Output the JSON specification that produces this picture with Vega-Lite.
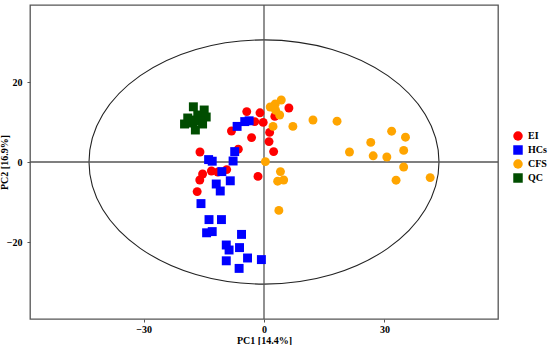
{
  "$schema": "https://vega.github.io/schema/vega-lite/v6.json",
  "width": 468,
  "height": 314,
  "autosize": "none",
  "padding": {"left": 30, "top": 5, "right": 52, "bottom": 26},
  "background": "white",
  "datasets": {
    "scores": [
      {"group": "EI", "x": -4.3, "y": 12.6},
      {"group": "EI", "x": -1.0, "y": 12.3},
      {"group": "EI", "x": 2.7, "y": 11.4},
      {"group": "EI", "x": -2.3, "y": 10.1},
      {"group": "EI", "x": -0.2, "y": 9.9},
      {"group": "EI", "x": -8.1, "y": 7.75},
      {"group": "EI", "x": -3.1, "y": 6.1},
      {"group": "EI", "x": 1.4, "y": 7.4},
      {"group": "EI", "x": 1.25, "y": 5.1},
      {"group": "EI", "x": -6.4, "y": 3.2},
      {"group": "EI", "x": 2.4, "y": 2.6},
      {"group": "EI", "x": -15.95, "y": 2.5},
      {"group": "EI", "x": 6.2, "y": 13.5},
      {"group": "EI", "x": -13.1, "y": -2.25},
      {"group": "EI", "x": -9.3, "y": -1.9},
      {"group": "EI", "x": -15.3, "y": -3.0},
      {"group": "EI", "x": -16.0, "y": -4.5},
      {"group": "EI", "x": -16.65, "y": -7.4},
      {"group": "EI", "x": -11.5, "y": -2.5},
      {"group": "EI", "x": -1.5, "y": -3.6},
      {"group": "HCs", "x": -6.7, "y": 8.9},
      {"group": "HCs", "x": -4.8, "y": 10.1},
      {"group": "HCs", "x": -3.7, "y": 10.3},
      {"group": "HCs", "x": -7.3, "y": 2.6},
      {"group": "HCs", "x": -7.7, "y": 0.25},
      {"group": "HCs", "x": -13.8, "y": 0.6},
      {"group": "HCs", "x": -12.9, "y": 0.2},
      {"group": "HCs", "x": -10.5, "y": -2.4},
      {"group": "HCs", "x": -8.4, "y": -4.7},
      {"group": "HCs", "x": -11.9, "y": -5.5},
      {"group": "HCs", "x": -10.9, "y": -7.25},
      {"group": "HCs", "x": -15.7, "y": -10.4},
      {"group": "HCs", "x": -13.7, "y": -14.4},
      {"group": "HCs", "x": -10.6, "y": -14.4},
      {"group": "HCs", "x": -14.3, "y": -17.7},
      {"group": "HCs", "x": -12.9, "y": -17.4},
      {"group": "HCs", "x": -5.6, "y": -18.1},
      {"group": "HCs", "x": -9.4, "y": -20.75},
      {"group": "HCs", "x": -8.7, "y": -22.0},
      {"group": "HCs", "x": -6.1, "y": -21.4},
      {"group": "HCs", "x": -4.1, "y": -24.0},
      {"group": "HCs", "x": -9.4, "y": -24.7},
      {"group": "HCs", "x": -6.2, "y": -26.6},
      {"group": "HCs", "x": -0.65, "y": -24.4},
      {"group": "CFS", "x": 4.3, "y": 15.5},
      {"group": "CFS", "x": 2.8, "y": 14.5},
      {"group": "CFS", "x": 1.55, "y": 13.75},
      {"group": "CFS", "x": 2.9, "y": 12.9},
      {"group": "CFS", "x": 3.9, "y": 11.75},
      {"group": "CFS", "x": 2.25, "y": 8.9},
      {"group": "CFS", "x": 7.2, "y": 8.9},
      {"group": "CFS", "x": 12.2, "y": 10.5},
      {"group": "CFS", "x": 18.2, "y": 10.2},
      {"group": "CFS", "x": 31.8, "y": 7.7},
      {"group": "CFS", "x": 35.25, "y": 6.2},
      {"group": "CFS", "x": 26.6, "y": 4.9},
      {"group": "CFS", "x": 21.3, "y": 2.5},
      {"group": "CFS", "x": 27.2, "y": 1.55},
      {"group": "CFS", "x": 30.6, "y": 1.25},
      {"group": "CFS", "x": 34.8, "y": 2.9},
      {"group": "CFS", "x": 34.8, "y": -1.25},
      {"group": "CFS", "x": 32.9, "y": -4.55},
      {"group": "CFS", "x": 41.4, "y": -3.9},
      {"group": "CFS", "x": 0.35, "y": 0.1},
      {"group": "CFS", "x": 4.1, "y": -2.4},
      {"group": "CFS", "x": 3.4, "y": -4.8},
      {"group": "CFS", "x": 4.9, "y": -4.5},
      {"group": "CFS", "x": 3.7, "y": -12.1},
      {"group": "QC", "x": -17.6, "y": 13.8},
      {"group": "QC", "x": -14.9, "y": 13.0},
      {"group": "QC", "x": -19.0, "y": 11.0},
      {"group": "QC", "x": -16.5, "y": 11.75},
      {"group": "QC", "x": -14.4, "y": 11.25},
      {"group": "QC", "x": -19.8, "y": 9.5},
      {"group": "QC", "x": -17.8, "y": 9.75},
      {"group": "QC", "x": -16.0, "y": 10.25},
      {"group": "QC", "x": -17.1, "y": 8.0},
      {"group": "QC", "x": -15.3, "y": 9.5},
      {"group": "QC", "x": -18.5, "y": 10.5}
    ]
  },
  "layer": [
    {
      "data": {"values": [{"x": 0, "y": 0}]},
      "mark": {
        "type": "point",
        "shape": "M -1 0 A 1 0.6977 0 1 0 1 0 A 1 0.6977 0 1 0 -1 0 Z",
        "size": 122500,
        "filled": false,
        "stroke": "#222222",
        "strokeWidth": 1.1,
        "opacity": 1
      },
      "encoding": {
        "x": {"field": "x", "type": "quantitative", "scale": {"domain": [-58.3, 58.3], "nice": false, "zero": false}, "axis": {"values": [-30, 0, 30], "title": "PC1 [14.4%]"}},
        "y": {"field": "y", "type": "quantitative", "scale": {"domain": [-39.25, 39.25], "nice": false, "zero": false}, "axis": {"values": [-20, 0, 20], "title": "PC2 [16.9%]"}}
      }
    },
    {
      "data": {"values": [{"x": 0}]},
      "mark": {"type": "rule", "color": "#555555", "strokeWidth": 1.3},
      "encoding": {
        "x": {"field": "x", "type": "quantitative", "scale": {"domain": [-58.3, 58.3], "nice": false, "zero": false}, "axis": {"values": [-30, 0, 30], "title": "PC1 [14.4%]"}}
      }
    },
    {
      "data": {"values": [{"y": 0}]},
      "mark": {"type": "rule", "color": "#555555", "strokeWidth": 1.3},
      "encoding": {
        "y": {"field": "y", "type": "quantitative", "scale": {"domain": [-39.25, 39.25], "nice": false, "zero": false}, "axis": {"values": [-20, 0, 20], "title": "PC2 [16.9%]"}}
      }
    },
    {
      "data": {"name": "scores"},
      "mark": {"type": "point", "filled": true, "opacity": 1, "size": 80, "strokeWidth": 0},
      "encoding": {
        "x": {"field": "x", "type": "quantitative", "scale": {"domain": [-58.3, 58.3], "nice": false, "zero": false}, "axis": {"values": [-30, 0, 30], "title": "PC1 [14.4%]"}},
        "y": {"field": "y", "type": "quantitative", "scale": {"domain": [-39.25, 39.25], "nice": false, "zero": false}, "axis": {"values": [-20, 0, 20], "title": "PC2 [16.9%]"}},
        "color": {
          "field": "group", "type": "nominal",
          "scale": {"domain": ["EI", "HCs", "CFS", "QC"], "range": ["#FF0000", "#0000FF", "#FFA500", "#004D00"]},
          "legend": {"title": null}
        },
        "shape": {
          "field": "group", "type": "nominal",
          "scale": {"domain": ["EI", "HCs", "CFS", "QC"], "range": ["circle", "square", "circle", "square"]},
          "legend": {"title": null}
        }
      }
    }
  ],
  "config": {
    "view": {"stroke": "#555555", "strokeWidth": 1.3},
    "axis": {
      "domain": false,
      "grid": false,
      "labelFont": "Liberation Serif",
      "labelFontWeight": "bold",
      "labelFontSize": 10,
      "labelColor": "#000000",
      "tickColor": "#555555",
      "tickSize": 3,
      "titleFont": "Liberation Serif",
      "titleFontWeight": "bold",
      "titleFontSize": 10,
      "titleColor": "#000000"
    },
    "axisX": {"labelPadding": 2, "titlePadding": 1},
    "axisY": {"labelPadding": 5, "titlePadding": -3},
    "legend": {
      "orient": "none",
      "legendX": 483,
      "legendY": 126,
      "labelFont": "Liberation Serif",
      "labelFontWeight": "bold",
      "labelFontSize": 10,
      "labelColor": "#000000",
      "symbolSize": 90,
      "rowPadding": 4,
      "labelOffset": 5,
      "symbolStrokeWidth": 0
    }
  }
}
